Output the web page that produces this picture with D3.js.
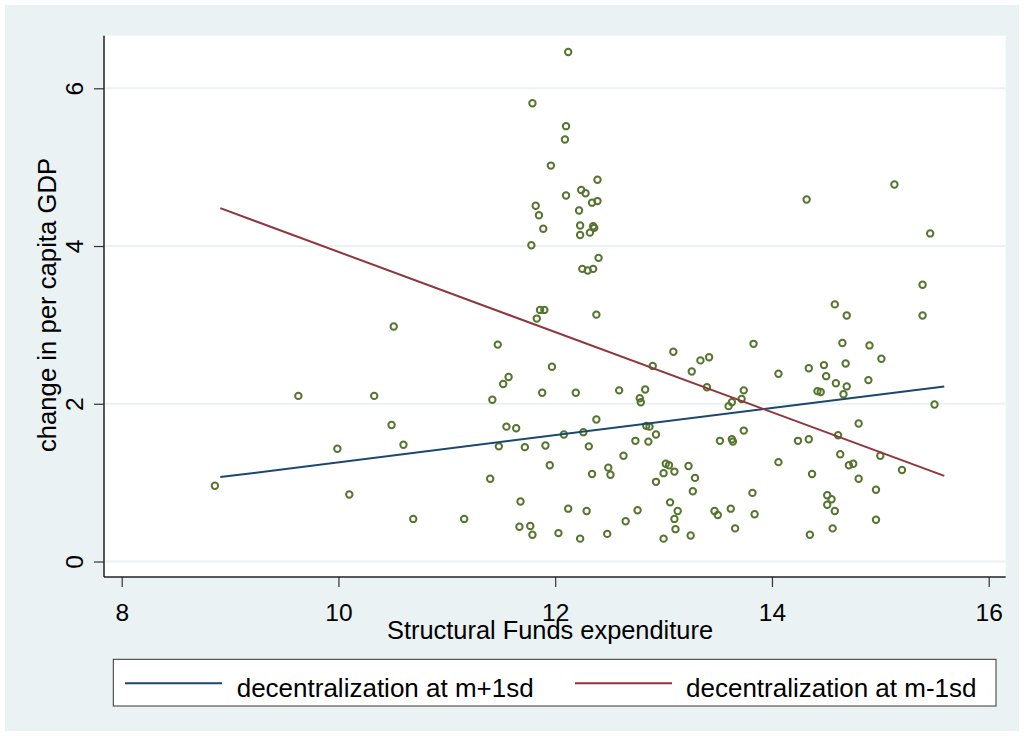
<!DOCTYPE html>
<html>
<head>
<meta charset="utf-8">
<script src="https://cdn.jsdelivr.net/npm/d3@7/dist/d3.min.js"></script>
<style>
  html, body { margin: 0; padding: 0; background: #ffffff; }
  svg { display: block; font-family: "Liberation Sans", Arial, sans-serif; }
</style>
</head>
<body>
<svg id="chart" width="1024" height="736"></svg>
<script>
// Structural Funds expenditure (x) vs. change in per capita GDP (y), one entry per region
const expenditure = [
  12.12, 11.79, 12.10, 12.09, 11.96, 12.39, 12.24, 12.28, 12.10, 12.39,
  12.34, 11.82, 11.85, 12.22, 11.89, 12.23, 12.35, 12.36, 12.23, 12.32,
  11.78, 12.40, 12.25, 12.30, 12.35, 11.86, 11.90, 11.83,
  12.38, 11.47, 11.97, 11.57, 11.52, 11.42, 11.88, 12.19, 12.59, 12.83,
  12.78, 12.79, 13.09, 12.90, 13.26, 13.34, 13.42, 13.40, 13.60, 13.63,
  13.72, 13.74, 11.55, 11.64, 12.38, 11.48, 11.72, 11.91, 12.08, 12.26,
  12.31, 12.84, 12.87, 12.93, 12.74, 12.86, 11.95, 12.63, 12.49, 12.51,
  12.34, 11.40, 13.02, 13.05, 13.00, 13.10, 13.23, 12.93, 13.29, 13.27,
  13.52, 13.63, 13.64, 13.74, 11.68, 12.12, 12.29, 12.76, 13.06, 13.13,
  13.10, 13.47, 13.50, 13.62, 13.66, 11.16, 11.67, 11.77, 11.79, 12.03,
  12.23, 12.48, 12.65, 13.11, 13.00, 13.25,
  10.51, 9.63, 10.33, 10.49, 9.99, 10.60, 8.86, 10.10, 10.69,
  14.32, 15.13, 15.46, 15.39, 14.58,
  14.69, 15.39, 13.83, 14.65, 14.90, 15.01, 14.68, 14.06, 14.34, 14.48,
  14.50, 14.59, 14.69, 14.89, 14.42, 14.45, 14.66, 15.50, 14.80, 14.61,
  14.24, 14.34, 14.63, 15.00, 14.06, 14.71, 14.75, 14.37, 15.20, 14.80,
  13.82, 14.96, 14.51, 14.55, 14.51, 14.58, 13.84, 14.96, 14.56, 14.35
];
const gdpChange = [
  6.46, 5.81, 5.52, 5.35, 5.02, 4.84, 4.71, 4.67, 4.64, 4.57,
  4.55, 4.51, 4.39, 4.45, 4.22, 4.26, 4.25, 4.23, 4.14, 4.17,
  4.01, 3.85, 3.71, 3.69, 3.71, 3.19, 3.19, 3.08,
  3.13, 2.75, 2.47, 2.34, 2.25, 2.05, 2.14, 2.14, 2.17, 2.18,
  2.07, 2.02, 2.66, 2.48, 2.41, 2.55, 2.59, 2.21, 1.97, 2.02,
  2.06, 2.17, 1.71, 1.69, 1.80, 1.46, 1.45, 1.47, 1.61, 1.64,
  1.46, 1.72, 1.71, 1.61, 1.53, 1.52, 1.22, 1.34, 1.19, 1.10,
  1.11, 1.05, 1.24, 1.22, 1.12, 1.14, 1.21, 1.01, 1.06, 0.89,
  1.53, 1.55, 1.52, 1.66, 0.76, 0.67, 0.64, 0.65, 0.75, 0.64,
  0.54, 0.64, 0.59, 0.67, 0.42, 0.54, 0.44, 0.45, 0.34, 0.36,
  0.29, 0.35, 0.51, 0.41, 0.29, 0.33,
  2.98, 2.10, 2.10, 1.73, 1.43, 1.48, 0.96, 0.85, 0.54,
  4.59, 4.78, 4.16, 3.51, 3.26,
  3.12, 3.12, 2.76, 2.77, 2.74, 2.57, 2.51, 2.38, 2.45, 2.49,
  2.35, 2.26, 2.22, 2.30, 2.16, 2.15, 2.12, 1.99, 1.75, 1.60,
  1.53, 1.55, 1.36, 1.34, 1.26, 1.22, 1.24, 1.11, 1.16, 1.05,
  0.87, 0.91, 0.84, 0.79, 0.72, 0.64, 0.60, 0.53, 0.42, 0.34
];

// Predicted GDP change at the two decentralization levels (line endpoints)
const fitX = [8.91, 15.59];
const fitHigh = [1.07, 2.22];   // decentralization at m+1sd
const fitLow = [4.48, 1.085];   // decentralization at m-1sd

const xTicks = [8, 10, 12, 14, 16];
const yTicks = [0, 2, 4, 6];
const seriesNames = ["decentralization at m+1sd", "decentralization at m-1sd"];

const xTitle = "Structural Funds expenditure";
const yTitle = "change in per capita GDP";

// Stata s2color palette
const colNavy = "#1a476f";
const colMaroon = "#90353b";
const colGreen = "#55752f";
const colBg = "#eaf2f3";

const svg = d3.select("#chart");
const W = 1024, H = 736;

// plot region box
const plot = { left: 104, right: 1005.7, top: 35.7, bottom: 577 };

const x = d3.scaleLinear().domain([8, 16]).range([121.7, 988.7]);
const y = d3.scaleLinear().domain([0, 6]).range([561.5, 88.3]);

// graph region background
svg.append("rect").attr("x", 0).attr("y", 0).attr("width", W).attr("height", H).attr("fill", "#ffffff");
svg.append("rect").attr("x", 5).attr("y", 5).attr("width", W - 10).attr("height", H - 10).attr("fill", colBg);

// plot region
svg.append("rect")
  .attr("x", plot.left).attr("y", plot.top)
  .attr("width", plot.right - plot.left).attr("height", plot.bottom - plot.top)
  .attr("fill", "#ffffff");

// horizontal grid lines
svg.append("g").selectAll("line").data(yTicks).join("line")
  .attr("x1", plot.left).attr("x2", plot.right)
  .attr("y1", d => y(d)).attr("y2", d => y(d))
  .attr("stroke", colBg).attr("stroke-width", 2);

// scatter markers (hollow circles)
svg.append("g").selectAll("circle").data(d3.range(expenditure.length)).join("circle")
  .attr("cx", i => x(expenditure[i]))
  .attr("cy", i => y(gdpChange[i]))
  .attr("r", 3.2)
  .attr("fill", "none")
  .attr("stroke", colGreen)
  .attr("stroke-width", 2);

// fitted lines
const line = d3.line().x(d => x(d[0])).y(d => y(d[1]));
const highPts = fitX.map((v, i) => [v, fitHigh[i]]);
const lowPts = fitX.map((v, i) => [v, fitLow[i]]);
svg.append("path").datum(highPts).attr("d", line)
  .attr("fill", "none").attr("stroke", colNavy).attr("stroke-width", 2);
svg.append("path").datum(lowPts).attr("d", line)
  .attr("fill", "none").attr("stroke", colMaroon).attr("stroke-width", 2);

// x axis
const gx = svg.append("g").attr("transform", `translate(0,${plot.bottom})`)
  .call(d3.axisBottom(x).tickValues(xTicks).tickSize(10).tickSizeOuter(0).tickFormat(d3.format("d")));
gx.select(".domain").remove();
gx.selectAll(".tick line").attr("stroke", "#333").attr("stroke-width", 1.2);
gx.selectAll(".tick text")
  .attr("y", 44).attr("dy", null)
  .attr("fill", "#000")
  .style("font-size", "24.5px")
  .style("font-family", "'Liberation Sans', Arial, sans-serif");
svg.append("line")
  .attr("x1", plot.left).attr("x2", plot.right)
  .attr("y1", plot.bottom).attr("y2", plot.bottom)
  .attr("stroke", "#222").attr("stroke-width", 1.5);

// y axis
const gy = svg.append("g").attr("transform", `translate(${plot.left},0)`)
  .call(d3.axisLeft(y).tickValues(yTicks).tickSize(10).tickSizeOuter(0).tickFormat(d3.format("d")));
gy.select(".domain").remove();
gy.selectAll(".tick line").attr("stroke", "#333").attr("stroke-width", 1.2);
gy.selectAll(".tick text")
  .attr("x", 0).attr("y", -21).attr("dy", null)
  .attr("transform", "rotate(-90)")
  .attr("text-anchor", "middle")
  .attr("fill", "#000")
  .style("font-size", "24.5px")
  .style("font-family", "'Liberation Sans', Arial, sans-serif");
svg.append("line")
  .attr("x1", plot.left).attr("x2", plot.left)
  .attr("y1", plot.top).attr("y2", plot.bottom)
  .attr("stroke", "#222").attr("stroke-width", 1.5);

// axis titles
svg.append("text")
  .attr("x", 550).attr("y", 639)
  .attr("text-anchor", "middle")
  .style("font-size", "25.4px")
  .attr("fill", "#000")
  .text(xTitle);
svg.append("text")
  .attr("transform", "translate(56,305) rotate(-90)")
  .attr("text-anchor", "middle")
  .style("font-size", "25.7px")
  .attr("fill", "#000")
  .text(yTitle);

// legend
const legend = svg.append("g");
legend.append("rect")
  .attr("x", 113.3).attr("y", 659.3).attr("width", 996 - 113.3).attr("height", 706 - 659.3)
  .attr("fill", "#ffffff").attr("stroke", "#333").attr("stroke-width", 1);
const legendItems = [
  { name: seriesNames[0], color: colNavy, x0: 125, tx: 236.7 },
  { name: seriesNames[1], color: colMaroon, x0: 575, tx: 686 }
];
legendItems.forEach(it => {
  legend.append("line")
    .attr("x1", it.x0).attr("x2", it.x0 + 97)
    .attr("y1", 683.3).attr("y2", 683.3)
    .attr("stroke", it.color).attr("stroke-width", 2);
  legend.append("text")
    .attr("x", it.tx).attr("y", 696.7)
    .style("font-size", "26px")
    .attr("fill", "#000")
    .text(it.name);
});
</script>
</body>
</html>
